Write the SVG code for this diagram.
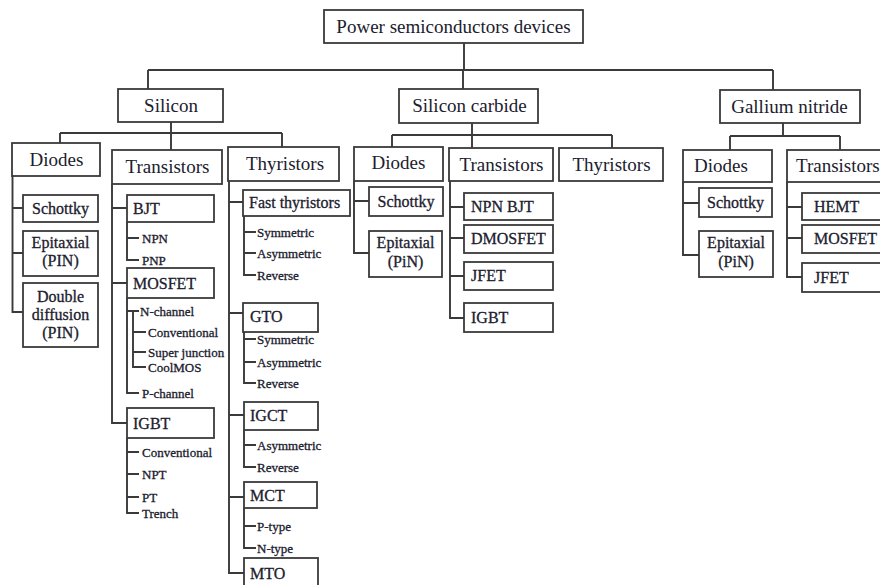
<svg xmlns="http://www.w3.org/2000/svg" width="880" height="585" viewBox="0 0 880 585">
  <style>
    .box { fill: #ffffff; stroke: #3a3a3a; stroke-width: 1.8; }
    .ln { fill: none; stroke: #3a3a3a; stroke-width: 1.9; }
    text { font-family: "Liberation Serif", "Times New Roman", serif; fill: #20202e; }
    .l1 { font-size: 19px; }
    .l2 { font-size: 19px; }
    .l3 { font-size: 16px; stroke: #20202e; stroke-width: 0.3; }
    .lf { font-size: 13px; stroke: #20202e; stroke-width: 0.3; }
    .mid { text-anchor: middle; }
  </style>
  <rect width="880" height="585" fill="#ffffff"/>

  <!-- connectors -->
  <g id="connectors">
    <!-- root to materials -->
    <path class="ln" d="M464 43V70 M148 70H773 M148 70V89 M463 70V89 M773 70V90"/>
    <!-- Silicon -->
    <path class="ln" d="M171 122V133 M60 133H282 M60 133V143 M171 133V150 M282 133V147"/>
    <!-- Silicon carbide -->
    <path class="ln" d="M472 123V135 M392 135H612 M392 135V147 M472 135V148 M612 135V148"/>
    <!-- Gallium nitride -->
    <path class="ln" d="M783 123V136 M730 136H840 M730 136V150 M840 136V150"/>

    <!-- Si diodes -->
    <path class="ln" d="M12.5 176V312H23 M12.5 208H23 M12.5 253H23"/>
    <!-- Si transistors -->
    <path class="ln" d="M112 184V423H127 M112 208H127 M112 283H127"/>
    <path class="ln" d="M127 222V260H139 M127 238H139"/>
    <path class="ln" d="M127 298V393H139 M127 311H139"/>
    <path class="ln" d="M133 311V367H146 M133 332H146 M133 352H146"/>
    <path class="ln" d="M127 438V513H139 M127 452H139 M127 474H139 M127 497H139"/>
    <!-- Si thyristors -->
    <path class="ln" d="M229 181V573H244 M229 202H243 M229 313H243 M229 415H244 M229 497H244"/>
    <path class="ln" d="M244 216V275H256 M244 232H256 M244 253H256"/>
    <path class="ln" d="M244 332V383H256 M244 339H256 M244 362H256"/>
    <path class="ln" d="M244 430V467H256 M244 445H256"/>
    <path class="ln" d="M244 508V548H256 M244 526H256"/>

    <!-- SiC diodes -->
    <path class="ln" d="M354 181V253H369 M354 201H369"/>
    <!-- SiC transistors -->
    <path class="ln" d="M450 181V318H464 M450 207H464 M450 238H464 M450 276H464"/>

    <!-- GaN diodes -->
    <path class="ln" d="M683 182V255H699 M683 203H699"/>
    <!-- GaN transistors -->
    <path class="ln" d="M787 182V277H802 M787 207H802 M787 238H802"/>
  </g>

  <!-- root -->
  <g id="root">
    <rect class="box" x="324" y="10" width="259" height="33"/>
    <text class="l1 mid" x="453.5" y="33">Power semiconductors devices</text>
  </g>

  <!-- materials -->
  <g id="silicon">
    <rect class="box" x="118" y="89" width="105" height="33"/>
    <text class="l1 mid" x="171" y="112">Silicon</text>
  </g>
  <g id="silicon-carbide">
    <rect class="box" x="399" y="89" width="139" height="34"/>
    <text class="l1 mid" x="469.5" y="112">Silicon carbide</text>
  </g>
  <g id="gallium-nitride">
    <rect class="box" x="720" y="90" width="140" height="33"/>
    <text class="l1 mid" x="789.5" y="113">Gallium nitride</text>
  </g>

  <!-- Silicon families -->
  <g id="si-diodes">
    <rect class="box" x="12" y="143" width="88" height="33"/>
    <text class="l2 mid" x="56.5" y="166">Diodes</text>
  </g>
  <g id="si-transistors">
    <rect class="box" x="112" y="150" width="110" height="34"/>
    <text class="l2 mid" x="167.5" y="173">Transistors</text>
  </g>
  <g id="si-thyristors">
    <rect class="box" x="228" y="147" width="111" height="34"/>
    <text class="l2 mid" x="285" y="170">Thyristors</text>
  </g>

  <!-- Si diodes -->
  <g id="si-schottky">
    <rect class="box" x="23" y="195" width="75" height="27"/>
    <text class="l3 mid" x="60.5" y="213.5">Schottky</text>
  </g>
  <g id="si-epitaxial">
    <rect class="box" x="23" y="231" width="75" height="45"/>
    <text class="l3 mid" x="60.5" y="248">Epitaxial</text>
    <text class="l3 mid" x="60.5" y="266">(PIN)</text>
  </g>
  <g id="si-double-diffusion">
    <rect class="box" x="23" y="283" width="75" height="64"/>
    <text class="l3 mid" x="60.5" y="302">Double</text>
    <text class="l3 mid" x="60.5" y="320">diffusion</text>
    <text class="l3 mid" x="60.5" y="338">(PIN)</text>
  </g>

  <!-- Si transistors -->
  <g id="si-bjt">
    <rect class="box" x="127" y="195" width="87" height="27"/>
    <text class="l3" x="133" y="214">BJT</text>
    <text class="lf" x="142" y="242.5">NPN</text>
    <text class="lf" x="142" y="264.5">PNP</text>
  </g>
  <g id="si-mosfet">
    <rect class="box" x="127" y="268" width="87" height="30"/>
    <text class="l3" x="133" y="289">MOSFET</text>
    <text class="lf" x="140" y="315.5">N-channel</text>
    <text class="lf" x="148" y="336.5">Conventional</text>
    <text class="lf" x="148" y="356.5">Super junction</text>
    <text class="lf" x="148" y="371.5">CoolMOS</text>
    <text class="lf" x="142" y="397.5">P-channel</text>
  </g>
  <g id="si-igbt">
    <rect class="box" x="127" y="408" width="87" height="30"/>
    <text class="l3" x="133" y="429">IGBT</text>
    <text class="lf" x="142" y="456.5">Conventional</text>
    <text class="lf" x="142" y="478.5">NPT</text>
    <text class="lf" x="142" y="501.5">PT</text>
    <text class="lf" x="142" y="517.5">Trench</text>
  </g>

  <!-- Si thyristors -->
  <g id="si-fast-thyristors">
    <rect class="box" x="243" y="190" width="107" height="26"/>
    <text class="l3" x="249" y="208">Fast thyristors</text>
    <text class="lf" x="257" y="236.5">Symmetric</text>
    <text class="lf" x="257" y="257.5">Asymmetric</text>
    <text class="lf" x="257" y="279.5">Reverse</text>
  </g>
  <g id="si-gto">
    <rect class="box" x="243" y="303" width="75" height="29"/>
    <text class="l3" x="250" y="322">GTO</text>
    <text class="lf" x="257" y="343.5">Symmetric</text>
    <text class="lf" x="257" y="366.5">Asymmetric</text>
    <text class="lf" x="257" y="387.5">Reverse</text>
  </g>
  <g id="si-igct">
    <rect class="box" x="244" y="402" width="74" height="28"/>
    <text class="l3" x="250" y="421">IGCT</text>
    <text class="lf" x="257" y="449.5">Asymmetric</text>
    <text class="lf" x="257" y="471.5">Reverse</text>
  </g>
  <g id="si-mct">
    <rect class="box" x="244" y="482" width="73" height="26"/>
    <text class="l3" x="250" y="501">MCT</text>
    <text class="lf" x="257" y="530.5">P-type</text>
    <text class="lf" x="257" y="552.5">N-type</text>
  </g>
  <g id="si-mto">
    <rect class="box" x="244" y="558" width="74" height="32"/>
    <text class="l3" x="250" y="579">MTO</text>
  </g>

  <!-- Silicon carbide families -->
  <g id="sic-diodes">
    <rect class="box" x="354" y="147" width="89" height="34"/>
    <text class="l2 mid" x="398.5" y="169">Diodes</text>
  </g>
  <g id="sic-transistors">
    <rect class="box" x="449" y="148" width="104" height="33"/>
    <text class="l2 mid" x="501.5" y="171">Transistors</text>
  </g>
  <g id="sic-thyristors">
    <rect class="box" x="559" y="148" width="104" height="33"/>
    <text class="l2 mid" x="611.5" y="171">Thyristors</text>
  </g>
  <g id="sic-schottky">
    <rect class="box" x="369" y="187" width="74" height="29"/>
    <text class="l3 mid" x="406" y="207">Schottky</text>
  </g>
  <g id="sic-epitaxial">
    <rect class="box" x="369" y="231" width="73" height="46"/>
    <text class="l3 mid" x="405.5" y="248">Epitaxial</text>
    <text class="l3 mid" x="405.5" y="267">(PiN)</text>
  </g>
  <g id="sic-npn-bjt">
    <rect class="box" x="464" y="193" width="89" height="27"/>
    <text class="l3" x="471" y="212">NPN BJT</text>
  </g>
  <g id="sic-dmosfet">
    <rect class="box" x="464" y="225" width="89" height="28"/>
    <text class="l3" x="471" y="244">DMOSFET</text>
  </g>
  <g id="sic-jfet">
    <rect class="box" x="464" y="262" width="89" height="28"/>
    <text class="l3" x="471" y="281">JFET</text>
  </g>
  <g id="sic-igbt">
    <rect class="box" x="464" y="303" width="89" height="29"/>
    <text class="l3" x="471" y="323">IGBT</text>
  </g>

  <!-- Gallium nitride families -->
  <g id="gan-diodes">
    <rect class="box" x="683" y="150" width="89" height="32"/>
    <text class="l2 mid" x="721" y="172">Diodes</text>
  </g>
  <g id="gan-transistors">
    <rect class="box" x="787" y="150" width="100" height="32"/>
    <text class="l2" x="796" y="172">Transistors</text>
  </g>
  <g id="gan-schottky">
    <rect class="box" x="699" y="188" width="73" height="29"/>
    <text class="l3 mid" x="735.5" y="208">Schottky</text>
  </g>
  <g id="gan-epitaxial">
    <rect class="box" x="699" y="231" width="74" height="46"/>
    <text class="l3 mid" x="736" y="248">Epitaxial</text>
    <text class="l3 mid" x="736" y="267">(PiN)</text>
  </g>
  <g id="gan-hemt">
    <rect class="box" x="802" y="193" width="85" height="27"/>
    <text class="l3" x="814" y="212">HEMT</text>
  </g>
  <g id="gan-mosfet">
    <rect class="box" x="802" y="225" width="85" height="28"/>
    <text class="l3" x="814" y="244">MOSFET</text>
  </g>
  <g id="gan-jfet">
    <rect class="box" x="802" y="263" width="85" height="29"/>
    <text class="l3" x="814" y="283">JFET</text>
  </g>
</svg>
